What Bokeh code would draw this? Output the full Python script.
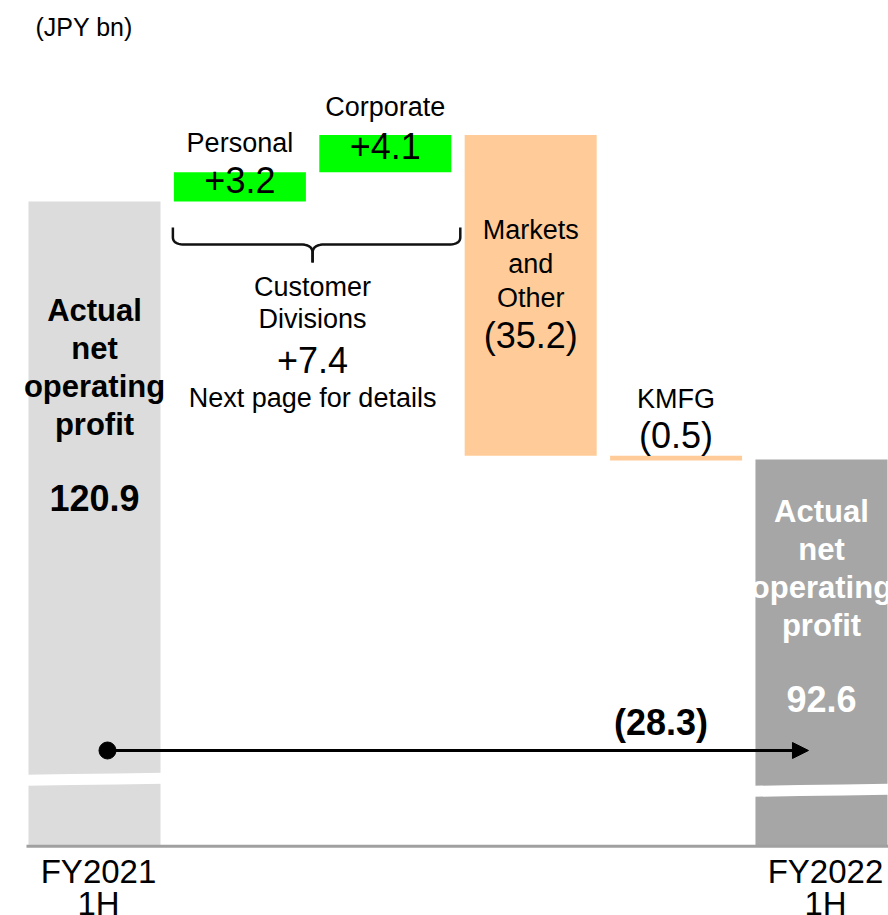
from bokeh.plotting import figure
from bokeh.models import Range1d, Arrow, NormalHead
from bokeh.core.properties import value
from bokeh.embed import file_html
from bokeh.resources import INLINE

# ---------------- data ----------------
categories = ["FY2021 1H", "Personal", "Corporate", "Markets and Other", "KMFG", "FY2022 1H"]
tick_labels = [["FY2021", "1H"], ["FY2022", "1H"]]
start_total = 120.9
deltas = [3.2, 4.1, -35.2, -0.5]
end_total = 92.6
customer_divisions = 7.4
total_change = -28.3
unit_label = "(JPY bn)"
total_label = ["Actual", "net", "operating", "profit"]
delta_names = [["Personal"], ["Corporate"], ["Markets", "and", "Other"], ["KMFG"]]
group_label = ["Customer", "Divisions"]
group_note = "Next page for details"

# ---------------- layout ----------------
W, H = 888, 915
X_RANGE = (-0.6465, 5.461)
Y_RANGE = (42.58, 142.95)
FLOOR = 50.26          # visible floor of the broken value axis
BAR_W = 0.908
ARROW_Y = 60.68
PX_X = (X_RANGE[1] - X_RANGE[0]) / W
PX_Y = (Y_RANGE[1] - Y_RANGE[0]) / H
FONT = value("Liberation Sans")
BASELINE_FIX = 0.36    # renderer places alphabetic baseline this many em too low


def below(v, px):
    return v - px * PX_Y


def xshift(x, px):
    return x + px * PX_X


def fmt(v):
    return "+%.1f" % v if v > 0 else "(%.1f)" % abs(v)


p = figure(width=W, height=H, x_range=Range1d(*X_RANGE), y_range=Range1d(*Y_RANGE),
           output_backend="svg", toolbar_location=None, min_border=0,
           x_axis_type=None, y_axis_type=None)
p.grid.visible = False
p.outline_line_color = None
p.background_fill_color = "white"
p.border_fill_color = "white"

# ---------------- bars ----------------
running = [start_total]
for d in deltas:
    running.append(round(running[-1] + d, 1))
xs = list(range(len(categories)))
bottoms = [FLOOR] + [min(running[i], running[i + 1]) for i in range(len(deltas))] + [FLOOR]
tops = [start_total] + [max(running[i], running[i + 1]) for i in range(len(deltas))] + [end_total]
colors = ["#dcdcdc", "#00ff00", "#00ff00", "#ffcc99", "#ffcc99", "#a6a6a6"]

p.quad(left=[x - BAR_W / 2 for x in xs], right=[x + BAR_W / 2 for x in xs],
       bottom=bottoms, top=tops, fill_color=colors, line_color=None)

# axis break bands on the two total bars
for i, off in ((0, 66), (5, 55)):
    yc = below(FLOOR, -off)
    bx = [xs[i] - BAR_W / 2 - 0.02, xs[i] - 0.15, xs[i] + 0.15, xs[i] + BAR_W / 2 + 0.02]
    by = [below(yc, 0.8), yc, below(yc, -0.6), below(yc, -1.2)]
    p.line(bx, by, line_color="white", line_width=11)

# baseline
p.line([xshift(xs[0] - BAR_W / 2, -2), X_RANGE[1]], [below(FLOOR, 0.8), below(FLOOR, 0.8)],
       line_color="#a0a0a0", line_width=3)

# total change arrow
x0 = xshift(xs[0], 13)
x1 = xshift(xs[-1], -13)
p.add_layout(Arrow(end=NormalHead(size=16, fill_color="black", line_color="black"),
                   x_start=x0, y_start=ARROW_Y, x_end=x1, y_end=ARROW_Y,
                   line_color="black", line_width=3))
p.scatter([x0], [ARROW_Y], size=17, marker="circle", fill_color="black", line_color="black")

# brace over the customer divisions
cx = (xs[1] + xs[2]) / 2
x_left = xshift(xs[1] - BAR_W / 2, -1)
x_right = xshift(xs[2] + BAR_W / 2, 9)
yt = below(start_total, 26)
ym = below(yt, 17)
ytip = below(yt, 35)
r = 12


def quad_pts(p0, c, p2, n=10):
    out = []
    for k in range(n + 1):
        t = k / n
        out.append(((1 - t) ** 2 * p0[0] + 2 * (1 - t) * t * c[0] + t * t * p2[0],
                    (1 - t) ** 2 * p0[1] + 2 * (1 - t) * t * c[1] + t * t * p2[1]))
    return out


def half(xe, sign):
    pts = [(xe, yt)]
    pts += quad_pts((xe, below(ym, -r * 0.6)), (xe, ym), (xshift(xe, -sign * r), ym))
    pts += quad_pts((xshift(cx, sign * r), ym), (cx, ym), (cx, below(ym, r * 0.7)))
    pts.append((cx, ytip))
    return pts


for xe, s in ((x_left, -1), (x_right, 1)):
    pts = half(xe, s)
    p.line([q[0] for q in pts], [q[1] for q in pts], line_color="#111111", line_width=2.5)

# ---------------- texts ----------------
labels = []  # x, y, text, size, bold, color, align


def add(x, y, t, size, bold=False, color="black", align="center"):
    labels.append((x, below(y, -BASELINE_FIX * size), t, size, bold, color, align))


# unit
add(xshift(X_RANGE[0], 35), Y_RANGE[1] - 35 * PX_Y, unit_label, 25, align="left")

# total bars
for i, first, numgap in ((0, 120, 75), (5, 63, 75)):
    col = "black" if i == 0 else "white"
    for k, line in enumerate(total_label):
        add(xs[i], below(tops[i], first + 38 * k), line, 31, True, col)
    val_ = start_total if i == 0 else end_total
    add(xs[i], below(tops[i], first + 38 * 3 + numgap), "%.1f" % val_, 36, True, col)

# Personal / Corporate
add(xs[1], below(tops[1], -20), delta_names[0][0], 27)
add(xs[1], below(tops[1], 21), fmt(deltas[0]), 36)
add(xs[2], below(tops[2], -18), delta_names[1][0], 27)
add(xs[2], below(tops[2], 24), fmt(deltas[1]), 36)

# group label
add(cx, below(start_total, 95), group_label[0], 27)
add(cx, below(start_total, 127), group_label[1], 27)
add(cx, below(start_total, 171), fmt(customer_divisions), 36)
add(cx, below(start_total, 206), group_note, 27)

# Markets and Other
for k, line in enumerate(delta_names[2]):
    add(xs[3], below(tops[3], 105 + 34 * k), line, 27)
add(xs[3], below(tops[3], 213), fmt(deltas[2]), 36)

# KMFG
add(xs[4], below(tops[4], -47), delta_names[3][0], 27)
add(xs[4], below(tops[4], -7), fmt(deltas[3]), 36)

# total change
add(xshift(xs[4], -15), below(ARROW_Y, -15), fmt(total_change), 36, True)

# category tick labels
for i, lines in zip((0, 5), tick_labels):
    add(xshift(xs[i], 4), below(FLOOR, 38), lines[0], 33)
    add(xshift(xs[i], 4), below(FLOOR, 70), lines[1], 33)

for x, y, t, size, bold, color, align in labels:
    p.text(x=[x], y=[y], text=[t], text_font=FONT, text_font_size="%dpx" % size,
           text_font_style="bold" if bold else "normal", text_color=color,
           text_align=align, text_baseline="alphabetic")

open("out.html", "w").write(file_html(p, INLINE))
